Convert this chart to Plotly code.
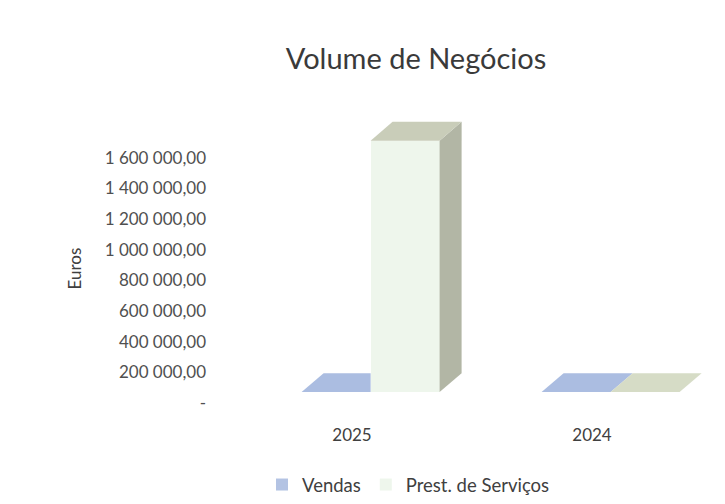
import plotly.graph_objects as go

# ---- data ----
categories = ["2025", "2024"]
series_names = ["Vendas", "Prest. de Serviços"]
vendas = [0, 0]
prest_servicos = [1640000, 0]
y_ticks = [0, 200000, 400000, 600000, 800000, 1000000, 1200000, 1400000, 1600000]

# ---- style / geometry ----
W, H = 725, 504
plot_left, plot_right, plot_top, plot_bot = 212, 725, 100, 418
px_per_cat = 240.0
cat0_px = 352.0
zero_px = 393.0
px_per_unit = 30.75 / 200000.0

front_colors = ["#b3c3e3", "#eef6ec"]
top_colors = ["#a9bbe0", "#c9cdb9"]
side_colors = ["#9fb2d8", "#b2b6a5"]
flat_colors = ["#abbde1", "#d6dcc6"]
bar_width = 69 / px_per_cat
offsets = [-0.21, -0.21 + 69 / px_per_cat]
depth_dx = 22 / px_per_cat
depth_dy = 19 / px_per_unit

def fmt(v):
    if v == 0:
        return "-"
    s = f"{v:,.2f}"
    ip, dp = s.split(".")
    return ip.replace(",", " ") + "," + dp

xpos = list(range(len(categories)))
values = [vendas, prest_servicos]

fig = go.Figure()

# front faces as real bars
for s, name in enumerate(series_names):
    fig.add_trace(go.Bar(
        x=xpos, y=values[s], name=name, width=bar_width, offset=offsets[s],
        marker=dict(color=front_colors[s], line=dict(width=0)),
        showlegend=True,
    ))

# depth faces (top and side) computed from data
for c in xpos:
    for s in range(len(series_names)):
        v = values[s][c]
        x0 = c + offsets[s]
        x1 = x0 + bar_width
        clip = s + 1 < len(series_names) and values[s + 1][c] >= v + depth_dy
        if v > 0 and not clip:
            fig.add_trace(go.Scatter(
                x=[x1, x1 + depth_dx, x1 + depth_dx, x1, x1],
                y=[0, depth_dy, v + depth_dy, v, 0],
                fill="toself", mode="lines", line=dict(width=0),
                fillcolor=side_colors[s], showlegend=False, hoverinfo="skip"))
        col = top_colors[s] if v > 0 else flat_colors[s]
        if clip:
            tx = [x0, x1, x1, x0 + depth_dx, x0]
        else:
            tx = [x0, x1, x1 + depth_dx, x0 + depth_dx, x0]
        ty = [v, v, v + depth_dy, v + depth_dy, v]
        fig.add_trace(go.Scatter(
            x=tx, y=ty, fill="toself", mode="lines", line=dict(width=0),
            fillcolor=col, showlegend=False, hoverinfo="skip"))

x_lo = (plot_left - cat0_px) / px_per_cat
x_hi = (plot_right - cat0_px) / px_per_cat
y_lo = -(plot_bot - zero_px) / px_per_unit
y_hi = (zero_px - plot_top) / px_per_unit
plot_w = plot_right - plot_left
plot_h = plot_bot - plot_top

fig.update_layout(
    width=W, height=H,
    margin=dict(l=plot_left, r=W - plot_right, t=plot_top, b=H - plot_bot),
    paper_bgcolor="white", plot_bgcolor="white",
    font=dict(family="Lato, Open Sans, sans-serif", color="#404040"),
    title=dict(text="Volume de Negócios", x=(416 / W), xanchor="center",
               y=1 - 59 / H, yanchor="middle",
               font=dict(size=29, color="#3a3a3a")),
    showlegend=True,
    legend=dict(orientation="h", x=(262 - plot_left) / plot_w,
                xanchor="left", y=(plot_bot - 486) / plot_h,
                yanchor="middle", font=dict(size=18.5, color="#404040"),
                traceorder="normal", itemwidth=30, bgcolor="rgba(0,0,0,0)"),
    bargap=0,
)
fig.update_xaxes(range=[x_lo, x_hi], tickvals=xpos, ticktext=categories,
                 showgrid=False, zeroline=False, showline=False, ticks="",
                 ticklabelstandoff=6,
                 tickfont=dict(size=17, color="#404040"), fixedrange=True)
fig.update_yaxes(range=[y_lo, y_hi], tickvals=y_ticks,
                 ticktext=[fmt(v) for v in y_ticks],
                 showgrid=False, zeroline=False,
                 showline=False, ticks="", ticklabelshift=11,
                 ticklabelstandoff=5,
                 tickfont=dict(size=17, color="#505050"), fixedrange=True)
fig.add_annotation(text="Euros", textangle=-90, xref="paper", yref="paper",
                   x=(74 - plot_left) / plot_w, xanchor="center",
                   y=(plot_bot - 269) / plot_h, yanchor="middle",
                   showarrow=False, font=dict(size=17, color="#404040"))

fig.write_html("out.html")
